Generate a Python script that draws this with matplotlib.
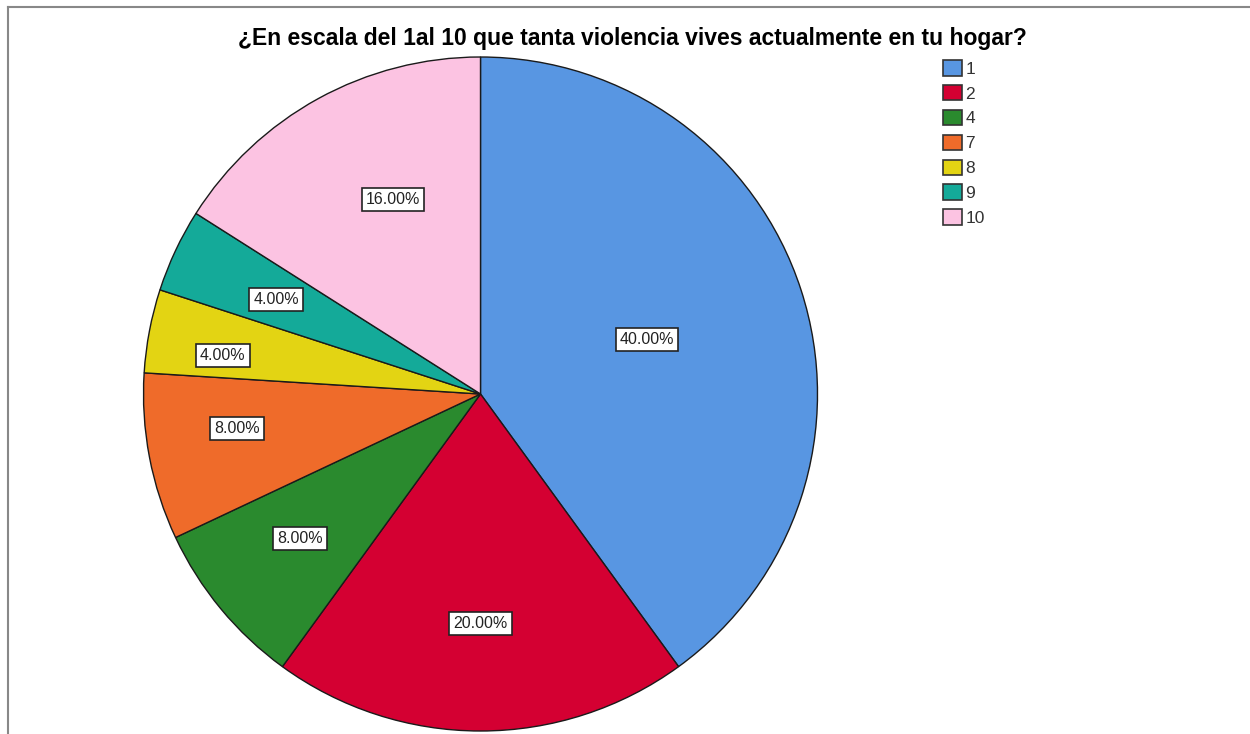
import matplotlib.pyplot as plt
from matplotlib.patches import Patch
from matplotlib.lines import Line2D
import numpy as np

plt.rcParams['font.family'] = ['Liberation Sans', 'DejaVu Sans']

# Data
categories = ['1', '2', '4', '7', '8', '9', '10']
percents = [40, 20, 8, 8, 4, 4, 16]
colors = ['#5896E2', '#D40032', '#2A8A2E', '#EF6B2A', '#E3D413', '#14AA99', '#FCC3E2']
# where each % box sits: fraction of radius and small angle shift (deg) from wedge middle
label_dist = [0.519, 0.68, 0.685, 0.73, 0.773, 0.669, 0.634]
label_shift = [0.0, 0.0, -1.0, -2.85, 2.2, 0.3, -4.6]

W, H = 1250, 734
fig = plt.figure(figsize=(W / 100, H / 100), dpi=100)
ax = fig.add_axes([0, 0, 1, 1])

cx, cy, r = 480.5, H - 394, 337
wedges, _ = ax.pie(percents, colors=colors, startangle=90, counterclock=False,
                   center=(cx, cy), radius=r,
                   wedgeprops=dict(edgecolor='#1a1a1a', linewidth=1.0))

# percentage labels in boxes
for w, p, d, s in zip(wedges, percents, label_dist, label_shift):
    ang = np.deg2rad((w.theta1 + w.theta2) / 2 + s)
    x = cx + d * r * np.cos(ang)
    y = cy + d * r * np.sin(ang)
    ax.text(x, y, f'{p:.2f}%', ha='center', va='center', fontsize=11.5,
            color='#222222',
            bbox=dict(boxstyle='square,pad=0.25', facecolor='white',
                      edgecolor='#222222', linewidth=1.2))

ax.set_xlim(0, W)
ax.set_ylim(0, H)
ax.set_aspect('equal')
ax.axis('off')

# title
fig.text(632 / W, 1 - 38 / H,
         '¿En escala del 1al 10 que tanta violencia vives actualmente en tu hogar?',
         ha='center', va='center', fontsize=16.5, fontweight='bold')

# legend
handles = [Patch(facecolor=c, edgecolor='#333333', linewidth=1.2) for c in colors]
fig.legend(handles, categories, loc='upper left', bbox_to_anchor=(943 / W, 1 - 60 / H),
           frameon=False, fontsize=12.5, handlelength=1.09, handleheight=1.0,
           handletextpad=0.2, labelspacing=0.47, borderpad=0, borderaxespad=0,
           labelcolor='#333333')

# thin grey frame at top/left like the original export
fig.add_artist(Line2D([7.5 / W, 7.5 / W], [0, 1 - 6.5 / H], color='#888888', linewidth=1.5))
fig.add_artist(Line2D([7.5 / W, 1], [1 - 6.5 / H, 1 - 6.5 / H], color='#888888', linewidth=1.5))

fig.savefig('out.png', dpi=100)
